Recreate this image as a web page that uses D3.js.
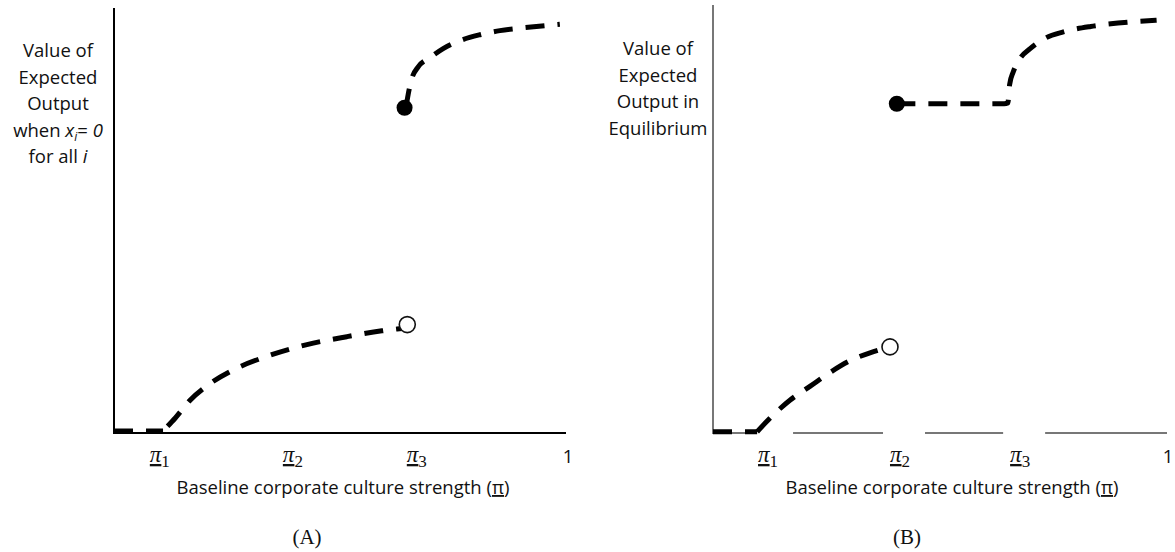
<!DOCTYPE html>
<html>
<head>
<meta charset="utf-8">
<script src="https://d3js.org/d3.v7.min.js"></script>
<style>
  body { margin: 0; background: #fff; }
  .lab { font-family: "Open Sans", sans-serif; font-size: 18.5px; fill: #111; }
  .tick { font-family: "Liberation Serif", serif; font-size: 23px; fill: #111; }
  .cap { font-family: "Liberation Serif", serif; font-size: 21px; fill: #111; }
</style>
</head>
<body>
<svg id="viz"></svg>
<script>
// tick labels and their position on the [0,1] culture-strength scale
const ticksA = [{sub: '1', x: 0.101}, {sub: '2', x: 0.394}, {sub: '3', x: 0.667}];
const ticksB = [{sub: '1', x: 0.121}, {sub: '2', x: 0.411}, {sub: '3', x: 0.675}];

// panel A curves: [x, value]
const flatA = [[0, 0.005], [0.108, 0.005]];
const lowA = [[0.118, 0.016], [0.135, 0.036], [0.167, 0.078], [0.211, 0.118], [0.266, 0.153],
              [0.337, 0.184], [0.425, 0.212], [0.513, 0.231], [0.59, 0.245], [0.645, 0.252], [0.66, 0.254]];
const highA = [[0.643, 0.78], [0.648, 0.812], [0.656, 0.85], [0.67, 0.878], [0.696, 0.9],
               [0.725, 0.922], [0.76, 0.94], [0.806, 0.955], [0.85, 0.965], [0.905, 0.972], [0.982, 0.98]];
const openA = [0.646, 0.26];
const dotA = [0.64, 0.78];

// panel B curves
const flatB = [[0, 0.003], [0.097, 0.003]];
const lowB = [[0.097, 0.003], [0.125, 0.035], [0.169, 0.078], [0.213, 0.111], [0.257, 0.144],
              [0.301, 0.172], [0.345, 0.191], [0.378, 0.202]];
const highB = [[0.403, 0.784], [0.5, 0.784], [0.64, 0.784], [0.648, 0.786], [0.652, 0.83],
               [0.66, 0.86], [0.675, 0.892], [0.697, 0.915], [0.73, 0.94], [0.77, 0.955],
               [0.83, 0.968], [0.89, 0.976], [0.975, 0.983]];
const openB = [0.389, 0.205];
const dotB = [0.404, 0.784];

const yLabelA = ['Value of', 'Expected', 'Output', 'when x_i = 0', 'for all i'];
const yLabelB = ['Value of', 'Expected', 'Output in', 'Equilibrium'];

var width = 1175, height = 552;
var svg = d3.select('#viz').attr('width', width).attr('height', height);

function drawPanel(p) {
  var x = d3.scaleLinear().domain([0, 1]).range([p.left, p.right]);
  var y = d3.scaleLinear().domain([0, 1]).range([p.bottom, p.top + 8]);
  var g = svg.append('g');

  // y axis
  g.append('line').attr('x1', p.left).attr('x2', p.left)
    .attr('y1', p.top).attr('y2', p.bottom + 1)
    .attr('stroke', p.axisColor).attr('stroke-width', 2);

  // x axis (possibly broken around tick labels)
  var segs = [[p.left, p.right - 2]];
  if (p.gaps) {
    segs = [];
    var start = p.left;
    p.ticks.forEach(function(t) {
      var c = x(t.x) + 4;
      segs.push([start, c - 21]);
      start = c + 21;
    });
    segs.push([start, p.right - 1]);
  }
  segs.forEach(function(s) {
    g.append('line').attr('x1', s[0]).attr('x2', s[1])
      .attr('y1', p.bottom).attr('y2', p.bottom)
      .attr('stroke', p.axisColor).attr('stroke-width', 2);
  });

  // tick labels
  p.ticks.forEach(function(t) {
    var txt = g.append('text').attr('class', 'tick')
      .attr('x', x(t.x)).attr('y', p.bottom + 29).attr('text-anchor', 'middle');
    txt.append('tspan').attr('font-style', 'italic')
      .style('text-decoration', 'underline').text('\u03C0');
    txt.append('tspan').attr('dy', 5).attr('font-size', 17).text(t.sub);
  });
  g.append('text').attr('class', 'lab').attr('font-size', 21)
    .attr('x', x(1)).attr('y', p.bottom + 30).attr('text-anchor', 'middle').text('1');

  // x label
  var xl = g.append('text').attr('class', 'lab')
    .attr('x', p.xLabelX).attr('y', p.bottom + 61).attr('text-anchor', 'middle');
  xl.append('tspan').text('Baseline corporate culture strength (');
  xl.append('tspan').style('text-decoration', 'underline').text('\u03C0');
  xl.append('tspan').text(')');

  // y label
  p.yLabel.forEach(function(s, i) {
    var t = g.append('text').attr('class', 'lab')
      .attr('x', p.yLabelX).attr('y', p.yLabelY + i * 26.5).attr('text-anchor', 'middle');
    if (s.indexOf('x_i') >= 0) {
      t.append('tspan').text('when ');
      t.append('tspan').attr('font-style', 'italic').text('x');
      t.append('tspan').attr('font-style', 'italic').attr('font-size', 12).attr('dy', 4).text('i');
      t.append('tspan').attr('dy', -4).text('= ');
      t.append('tspan').attr('font-style', 'italic').text('0');
    } else if (s === 'for all i') {
      t.append('tspan').text('for all ');
      t.append('tspan').attr('font-style', 'italic').text('i');
    } else {
      t.text(s);
    }
  });

  // caption
  g.append('text').attr('class', 'cap').attr('x', p.capX).attr('y', 544)
    .attr('text-anchor', 'middle').text(p.cap);

  // curves
  var line = d3.line().x(function(d) { return x(d[0]); }).y(function(d) { return y(d[1]); })
    .curve(d3.curveMonotoneX);
  p.curves.forEach(function(c) {
    g.append('path').attr('d', line(c)).attr('fill', 'none')
      .attr('stroke', '#000').attr('stroke-width', 5)
      .attr('stroke-dasharray', '19,13');
  });

  // open and filled points
  g.append('circle').attr('cx', x(p.open[0])).attr('cy', y(p.open[1])).attr('r', 8)
    .attr('fill', '#fff').attr('stroke', '#111').attr('stroke-width', 1.6);
  g.append('circle').attr('cx', x(p.dot[0])).attr('cy', y(p.dot[1])).attr('r', 8)
    .attr('fill', '#000');
}

drawPanel({
  left: 114, right: 568, top: 8, bottom: 433, axisColor: '#000',
  ticks: ticksA, gaps: false, curves: [flatA, lowA, highA], open: openA, dot: dotA,
  yLabel: yLabelA, yLabelX: 58, yLabelY: 57, xLabelX: 343, cap: '(A)', capX: 307
});
drawPanel({
  left: 713, right: 1168, top: 5, bottom: 433, axisColor: '#777',
  ticks: ticksB, gaps: true, curves: [flatB, lowB, highB], open: openB, dot: dotB,
  yLabel: yLabelB, yLabelX: 658, yLabelY: 55, xLabelX: 952, cap: '(B)', capX: 907
});
</script>
</body>
</html>
